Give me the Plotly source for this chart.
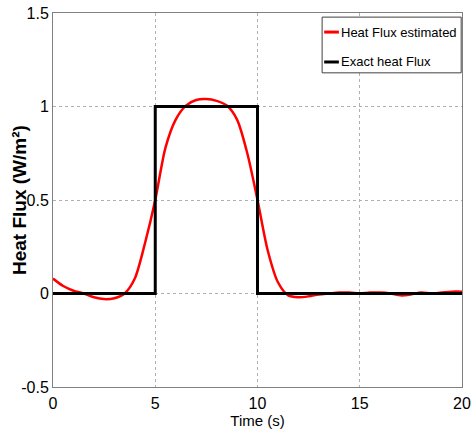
import plotly.graph_objects as go

# estimated heat flux
time_est = [0, 0.5, 1, 1.5, 2, 2.5, 3, 3.5, 4, 4.5, 5, 5.5, 6, 6.5, 7, 7.5, 8, 8.5, 9, 9.5,
            10, 10.5, 11, 11.5, 12, 12.5, 13, 13.5, 14, 14.5, 15, 15.5, 16, 16.5, 17, 17.5,
            18, 18.5, 19, 19.5, 20]
flux_est = [0.08, 0.04, 0.015, 0.0, -0.02, -0.03, -0.025, 0.0, 0.08, 0.27, 0.50, 0.78, 0.93,
            1.005, 1.035, 1.04, 1.03, 1.005, 0.93, 0.75, 0.50, 0.23, 0.06, -0.01, -0.02,
            -0.015, -0.005, 0.0, 0.005, 0.005, 0.0, 0.005, 0.005, 0.0, -0.01, -0.005, 0.005,
            0.0, 0.005, 0.01, 0.01]

# exact (square pulse)
time_exact = [0, 5, 5, 10, 10, 20]
flux_exact = [0, 0, 1, 1, 0, 0]

font = "Liberation Sans, Arial, sans-serif"

fig = go.Figure()
fig.add_trace(go.Scatter(x=time_est, y=flux_est, mode="lines", name="Heat Flux estimated",
                         line=dict(color="#ff0000", width=2.5, shape="spline", smoothing=0.8),
                         showlegend=False))
fig.add_trace(go.Scatter(x=time_exact, y=flux_exact, mode="lines", name="Exact heat Flux",
                         line=dict(color="black", width=3), showlegend=False))

axis_style = dict(showline=True, linecolor="#808080", linewidth=1, mirror=True,
                  showgrid=True, gridcolor="#b0b0b0", griddash="dot", gridwidth=1,
                  zeroline=False, ticks="", automargin=False, ticklabeloverflow="allow",
                  tickfont=dict(family=font, size=16, color="black"))

fig.update_xaxes(range=[0, 20], tickvals=[0, 5, 10, 15, 20], ticklabelstandoff=2,
                 title=dict(text="Time (s)", font=dict(family=font, size=15, color="black"),
                            standoff=4),
                 **axis_style)
fig.update_yaxes(range=[-0.5, 1.5], tickvals=[-0.5, 0, 0.5, 1, 1.5],
                 ticktext=["-0.5", "0", "0.5", "1", "1.5"],
                 **axis_style)

# y title as a rotated annotation so it can sit where the original has it
annotations = [dict(xref="paper", yref="paper", x=-0.083, y=0.5, xanchor="center", yanchor="middle",
                    textangle=-90, text="<b>Heat Flux (W/m²)</b>", showarrow=False,
                    font=dict(family=font, size=19, color="black"))]

# legend box drawn by hand so it keeps the short sample lines of the original
legend_items = ["Heat Flux estimated", "Exact heat Flux"]
legend_colors = ["#ff0000", "black"]
shapes = [dict(type="rect", xref="paper", yref="paper", x0=0.658, x1=0.998, y0=0.840, y1=0.989,
               line=dict(color="#404040", width=1), fillcolor="white", layer="above")]
for i, (name, col) in enumerate(zip(legend_items, legend_colors)):
    yy = 0.949 - i * 0.08
    shapes.append(dict(type="line", xref="paper", yref="paper", x0=0.663, x1=0.699, y0=yy, y1=yy,
                       line=dict(color=col, width=3), layer="above"))
    annotations.append(dict(xref="paper", yref="paper", x=0.699, y=yy, xanchor="left", yanchor="middle",
                            text=name, showarrow=False, font=dict(family=font, size=13, color="black")))

fig.update_layout(
    width=473, height=437,
    margin=dict(l=53, r=11, t=13, b=50),
    paper_bgcolor="white", plot_bgcolor="white",
    shapes=shapes, annotations=annotations,
)

# drop the browser's default 8 px body margin so the figure fills the window
fig.write_html("out.html", config={"displayModeBar": False},
               post_script="document.body.style.margin = '0px';")
